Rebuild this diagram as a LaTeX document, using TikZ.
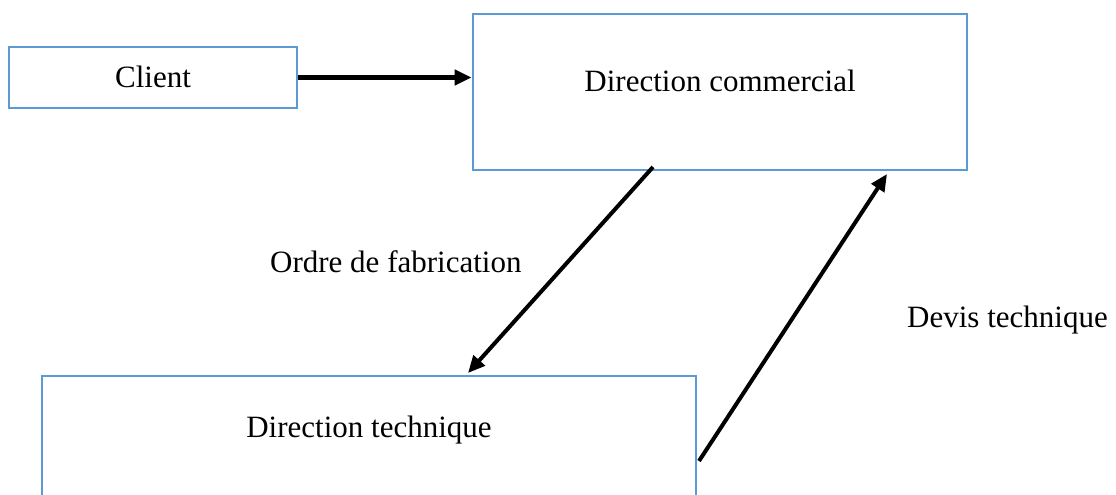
\documentclass[tikz,border=0pt]{standalone}
\usepackage{fontspec}
\setmainfont{Liberation Serif}
\usetikzlibrary{arrows.meta}
\definecolor{boxblue}{HTML}{5B9BD5}
\tikzset{
  unitbox/.style={draw=boxblue, line width=2.8pt, fill=none, inner sep=0pt},
  lbl/.style={font=\fontsize{31}{36}\selectfont, inner sep=0pt},
  flow/.style={line width=4pt, -{Triangle[length=17pt,width=15pt]}},
}
\begin{document}
\begin{tikzpicture}[x=1pt, y=-1pt]
  \useasboundingbox (0,0) rectangle (1116,495);
  \clip (0,0) rectangle (1116,495);

  % boxes
  \node[unitbox, minimum width=288pt, minimum height=61pt] (client) at (153,77.5) {};
  \node[unitbox, minimum width=494pt, minimum height=156pt] (dcom) at (720,92) {};
  \node[unitbox, minimum width=654pt, minimum height=160pt] (dtech) at (369,456) {};

  % box captions
  \node[lbl, anchor=base] (tclient) at (153,87) {Client};
  \node[lbl, anchor=base] (tdcom) at (720,92) {Direction commercial};
  \node[lbl, anchor=base] (tdtech) at (369,437) {Direction technique};

  % flow labels
  \node[lbl, anchor=base west] (lordre) at (270,272) {Ordre de fabrication};
  \node[lbl, anchor=base west] (ldevis) at (907,327) {Devis technique};

  % connector end points
  \coordinate (ordreA) at (653,167);
  \coordinate (ordreB) at (468,373);
  \coordinate (devisA) at (699,461);
  \coordinate (devisB) at (887,174);

  % connectors
  \draw[flow, line width=5pt] (client.east) -- (dcom.west |- client.east);
  \draw[flow] (ordreA) -- (ordreB);
  \draw[flow] (devisA) -- (devisB);
\end{tikzpicture}
\end{document}
